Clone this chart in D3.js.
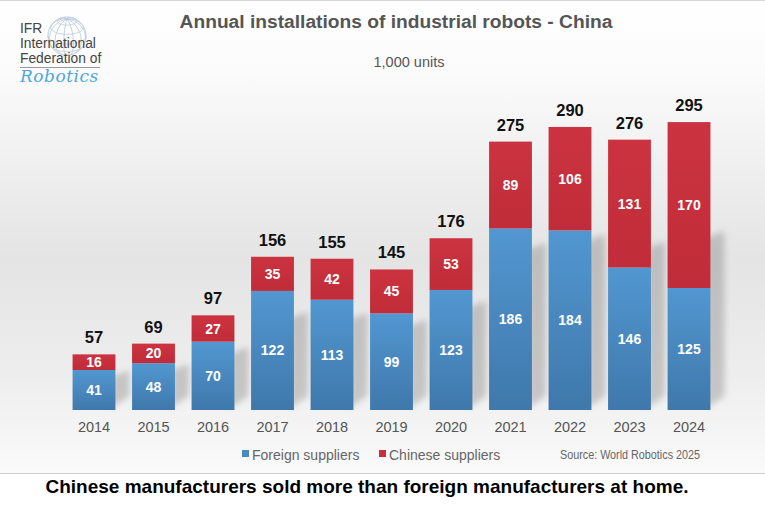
<!DOCTYPE html>
<html>
<head>
<meta charset="utf-8">
<script src="https://cdn.jsdelivr.net/npm/d3@7"></script>
<style>
  body { margin: 0; background: #fff; }
  svg { display: block; font-family: "Liberation Sans", Arial, sans-serif; }
</style>
</head>
<body>
<div id="chart"></div>
<script>
// data (1,000 units)
var years = ["2014", "2015", "2016", "2017", "2018", "2019", "2020", "2021", "2022", "2023", "2024"];
var foreign = [41, 48, 70, 122, 113, 99, 123, 186, 184, 146, 125];
var chinese = [16, 20, 27, 35, 42, 45, 53, 89, 106, 131, 170];
var totals = [57, 69, 97, 156, 155, 145, 176, 275, 290, 276, 295];
var seriesNames = ["Foreign suppliers", "Chinese suppliers"];

var width = 765, height = 518;
var svg = d3.select("#chart").append("svg")
    .attr("width", width)
    .attr("height", height);

var defs = svg.append("defs");

// background gradient of the plot area
var bg = defs.append("linearGradient").attr("id", "bg")
    .attr("x1", 0).attr("y1", 0).attr("x2", 0).attr("y2", 1);
bg.append("stop").attr("offset", "0%").attr("stop-color", "#ffffff");
bg.append("stop").attr("offset", "15%").attr("stop-color", "#fbfbfb");
bg.append("stop").attr("offset", "55%").attr("stop-color", "#e4e4e4");
bg.append("stop").attr("offset", "80%").attr("stop-color", "#eeeeee");
bg.append("stop").attr("offset", "100%").attr("stop-color", "#fafafa");

var blueGrad = defs.append("linearGradient").attr("id", "blueGrad")
    .attr("x1", 0).attr("y1", 0).attr("x2", 0).attr("y2", 1);
blueGrad.append("stop").attr("offset", "0%").attr("stop-color", "#5297d1");
blueGrad.append("stop").attr("offset", "100%").attr("stop-color", "#3f78ab");

var redGrad = defs.append("linearGradient").attr("id", "redGrad")
    .attr("x1", 0).attr("y1", 0).attr("x2", 0).attr("y2", 1);
redGrad.append("stop").attr("offset", "0%").attr("stop-color", "#cc3340");
redGrad.append("stop").attr("offset", "100%").attr("stop-color", "#c02c39");

defs.append("filter").attr("id", "blur")
    .attr("x", "-50%").attr("y", "-50%").attr("width", "200%").attr("height", "200%")
    .append("feGaussianBlur").attr("stdDeviation", 3);

svg.append("rect")
    .attr("x", 0).attr("y", 0).attr("width", width).attr("height", 473)
    .attr("fill", "url(#bg)");
svg.append("line")
    .attr("x1", 0).attr("x2", width).attr("y1", 0.5).attr("y2", 0.5)
    .attr("stroke", "#d8d8d8");
svg.append("line")
    .attr("x1", 0).attr("x2", width).attr("y1", 473.5).attr("y2", 473.5)
    .attr("stroke", "#cfcfcf");

// logo
var logo = svg.append("g");
var globe = d3.geoOrthographic().scale(19).translate([67, 36]).rotate([20, -25]);
var globePath = d3.geoPath().projection(globe);
logo.append("path")
    .datum(d3.geoGraticule().step([30, 30])())
    .attr("d", globePath)
    .attr("fill", "none").attr("stroke", "#b9c9da").attr("stroke-width", 0.8);
logo.append("path")
    .datum({ type: "Sphere" })
    .attr("d", globePath)
    .attr("fill", "none").attr("stroke", "#b9c9da").attr("stroke-width", 1);
logo.selectAll("text.logo").data(["IFR", "International", "Federation of"])
    .enter().append("text")
    .attr("class", "logo")
    .attr("x", 20)
    .attr("y", function(d, i) { return 33 + i * 15; })
    .attr("font-size", 13.8)
    .attr("fill", "#444")
    .text(function(d) { return d; });
logo.append("line")
    .attr("x1", 20).attr("x2", 100).attr("y1", 67.5).attr("y2", 67.5)
    .attr("stroke", "#999").attr("stroke-width", 1);
logo.append("text")
    .attr("x", 20).attr("y", 82)
    .attr("font-size", 17)
    .attr("font-style", "italic")
    .attr("font-family", "DejaVu Serif, serif")
    .attr("letter-spacing", 0.5)
    .attr("fill", "#4ea6db")
    .text("Robotics");

// titles
svg.append("text")
    .attr("x", 396).attr("y", 28)
    .attr("text-anchor", "middle")
    .attr("font-size", 19.2).attr("font-weight", "bold")
    .attr("fill", "#555")
    .text("Annual installations of industrial robots - China");
svg.append("text")
    .attr("x", 409).attr("y", 67)
    .attr("text-anchor", "middle")
    .attr("font-size", 14.5)
    .attr("fill", "#555")
    .text("1,000 units");

// scales
var x = d3.scaleBand().domain(years).range([64.25, 718.75])
    .paddingInner(0.28).paddingOuter(0.14);
var y = d3.scaleLinear().domain([0, 300]).range([410, 117.2]);

var rows = years.map(function(yr, i) {
    return { year: yr, foreign: foreign[i], chinese: chinese[i], total: totals[i] };
});
var stack = d3.stack().keys(["foreign", "chinese"])(rows);

// soft shadows to the right of the bars
svg.append("g").selectAll("path").data(rows)
    .enter().append("path")
    .attr("d", function(d) {
        var x0 = x(d.year), w = x.bandwidth();
        var h = y(0) - y(d.foreign + d.chinese);
        var top = y(0) - h * 0.6, dx = 14;
        return "M" + (x0 + w - 4) + "," + (y(0) - 2) +
            "L" + (x0 + w + dx) + "," + (y(0) - 14) +
            "L" + (x0 + w + dx) + "," + (top - 6) +
            "L" + (x0 + w - 4) + "," + top + "Z";
    })
    .attr("fill", "#777")
    .attr("opacity", 0.35)
    .attr("filter", "url(#blur)");

var fills = ["url(#blueGrad)", "url(#redGrad)"];
var layers = svg.append("g").selectAll("g").data(stack)
    .enter().append("g")
    .attr("fill", function(d, i) { return fills[i]; });
layers.selectAll("rect").data(function(d) { return d; })
    .enter().append("rect")
    .attr("x", function(d) { return x(d.data.year); })
    .attr("y", function(d) { return y(d[1]); })
    .attr("width", x.bandwidth())
    .attr("height", function(d) { return y(d[0]) - y(d[1]); });

// segment labels
layers.selectAll("text").data(function(d) { return d; })
    .enter().append("text")
    .attr("x", function(d) { return x(d.data.year) + x.bandwidth() / 2; })
    .attr("y", function(d) { return (y(d[0]) + y(d[1])) / 2 + 5; })
    .attr("text-anchor", "middle")
    .attr("font-size", 14).attr("font-weight", "bold")
    .attr("fill", "#fff")
    .text(function(d) { return d[1] - d[0]; });

// totals
svg.append("g").selectAll("text").data(rows)
    .enter().append("text")
    .attr("x", function(d) { return x(d.year) + x.bandwidth() / 2; })
    .attr("y", function(d) { return y(d.foreign + d.chinese) - 11; })
    .attr("text-anchor", "middle")
    .attr("font-size", 16.5).attr("font-weight", "bold")
    .attr("fill", "#111")
    .text(function(d) { return d.total; });

// x axis labels
var xAxis = svg.append("g")
    .attr("transform", "translate(0,417)")
    .call(d3.axisBottom(x).tickSize(0).tickPadding(5));
xAxis.select(".domain").remove();
xAxis.selectAll("text")
    .attr("font-size", 14.5)
    .attr("font-family", "Liberation Sans, Arial, sans-serif")
    .attr("fill", "#555");

// legend
var legendX = [242, 379];
var legend = svg.append("g").selectAll("g").data(seriesNames)
    .enter().append("g")
    .attr("transform", function(d, i) { return "translate(" + legendX[i] + ",0)"; });
legend.append("rect")
    .attr("x", 0).attr("y", 450).attr("width", 7).attr("height", 7)
    .attr("fill", function(d, i) { return i === 0 ? "#4a88bf" : "#c62f3c"; });
legend.append("text")
    .attr("x", 10).attr("y", 460)
    .attr("font-size", 14)
    .attr("fill", "#666")
    .text(function(d) { return d; });

svg.append("text")
    .attr("x", 700).attr("y", 459)
    .attr("text-anchor", "end")
    .attr("font-size", 12)
    .attr("textLength", 140)
    .attr("lengthAdjust", "spacingAndGlyphs")
    .attr("fill", "#666")
    .text("Source: World Robotics 2025");

// caption
svg.append("text")
    .attr("x", 367).attr("y", 493)
    .attr("text-anchor", "middle")
    .attr("font-size", 19).attr("font-weight", "bold")
    .attr("fill", "#000")
    .text("Chinese manufacturers sold more than foreign manufacturers at home.");
</script>
</body>
</html>
